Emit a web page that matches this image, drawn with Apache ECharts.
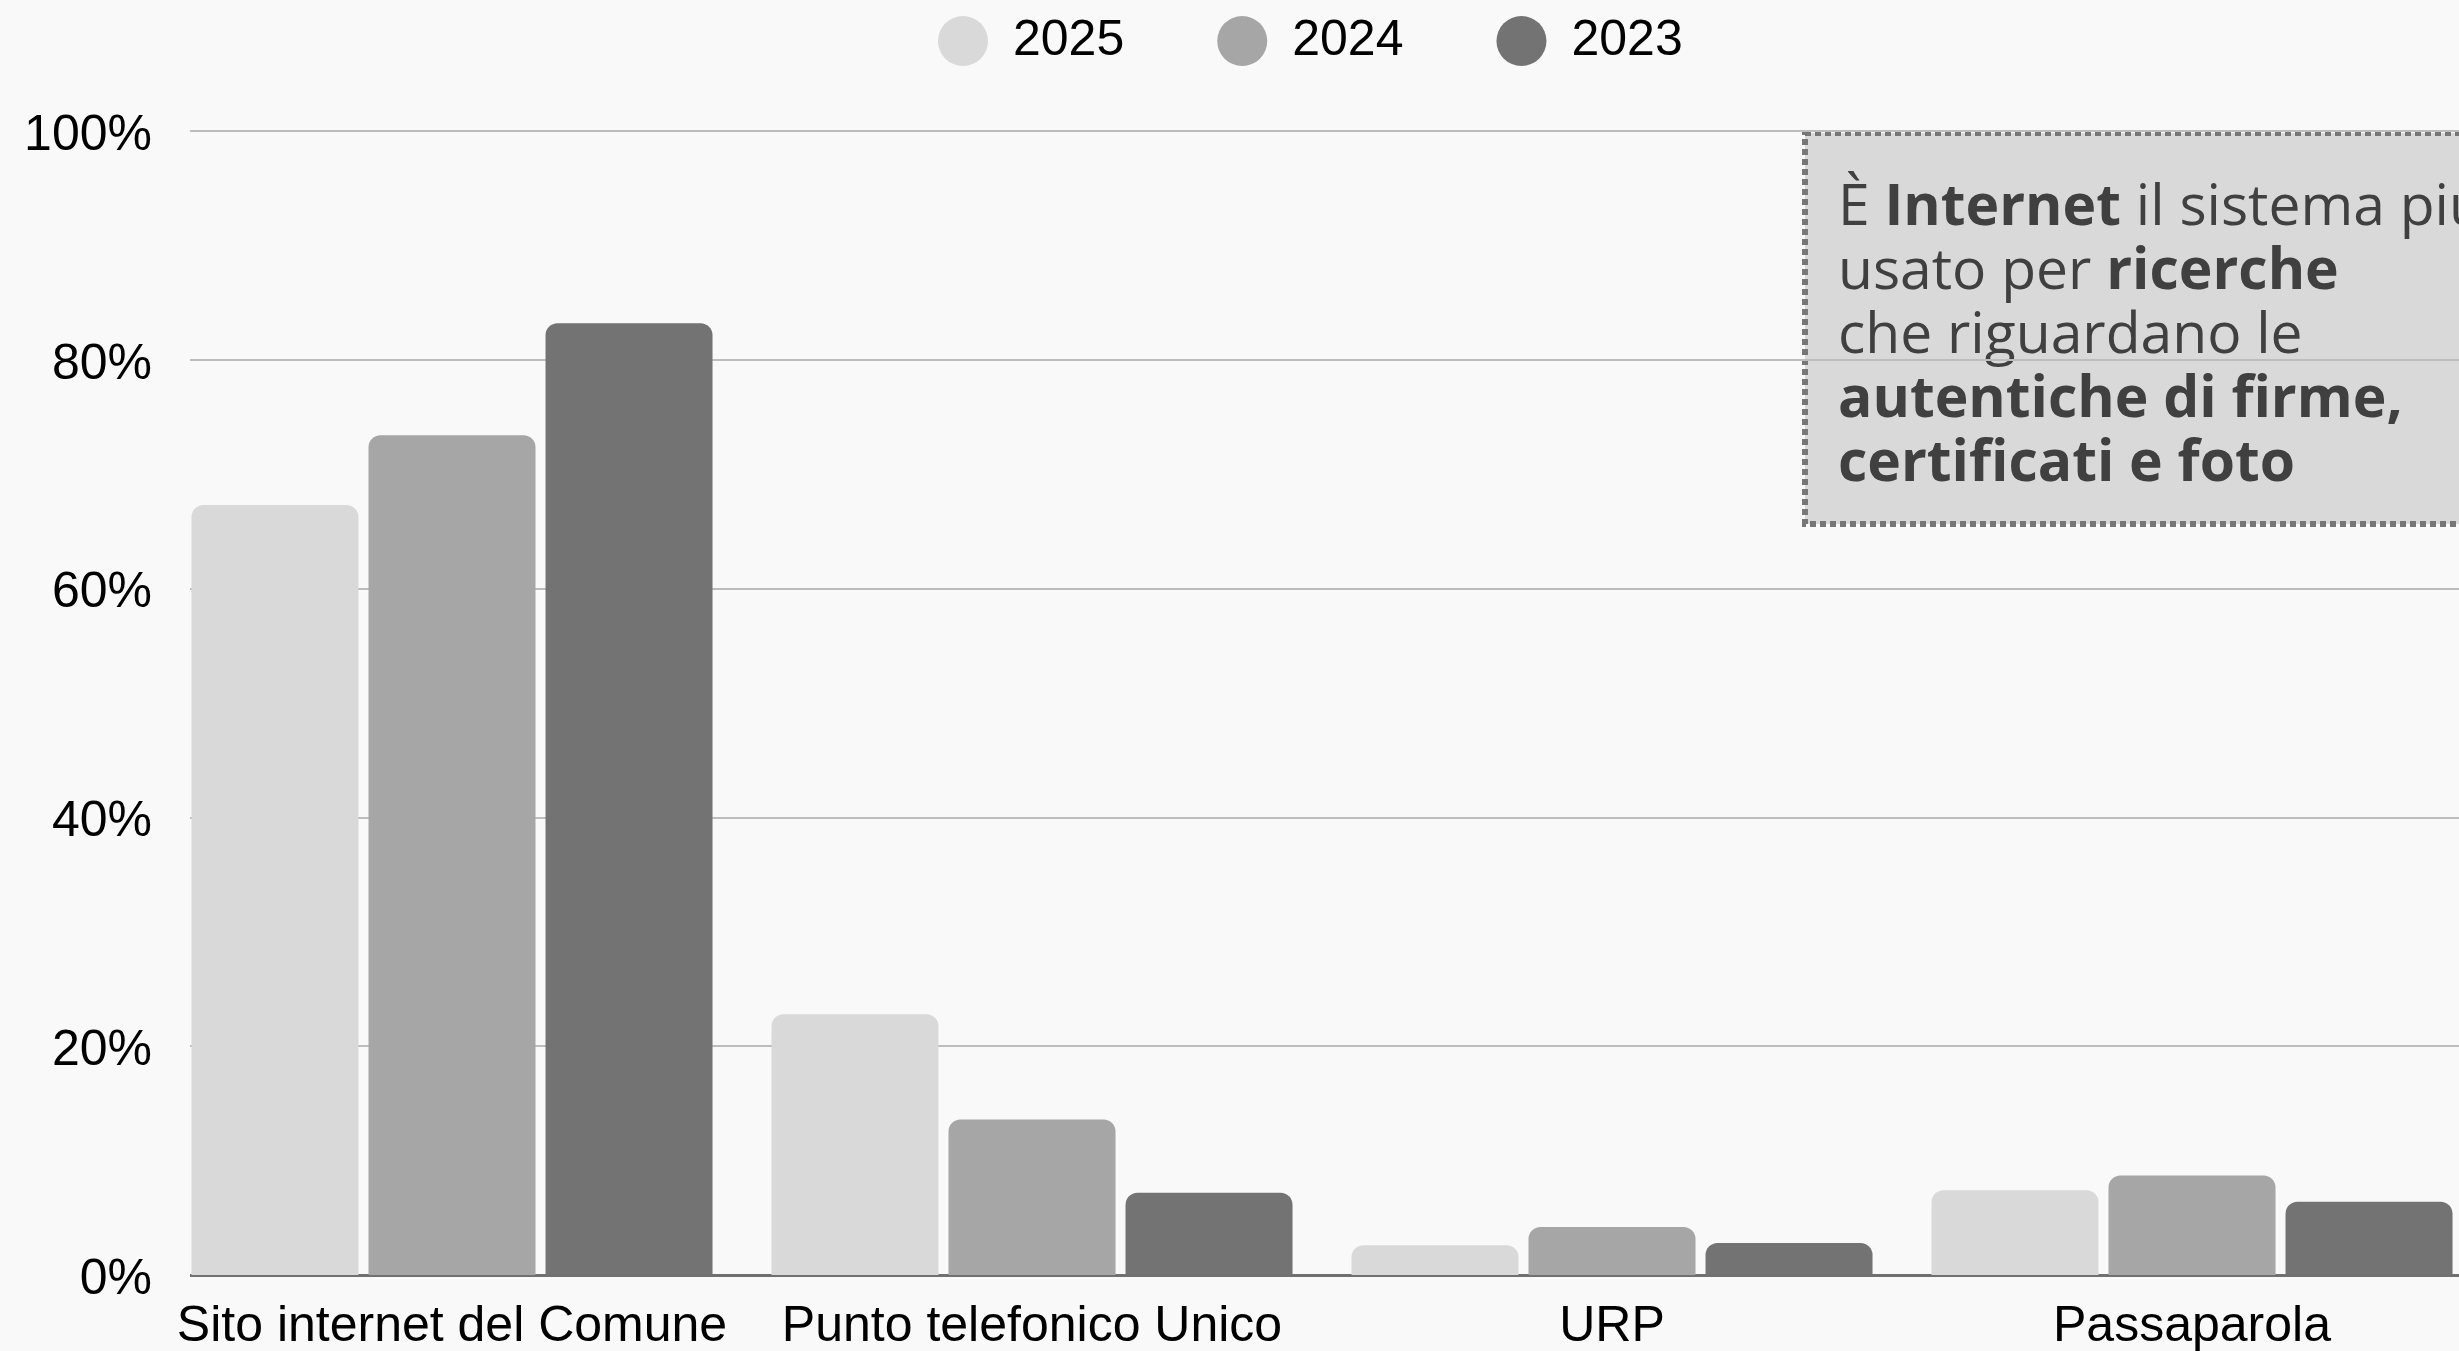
<!DOCTYPE html>
<html>
<head>
<meta charset="utf-8">
<script src="https://cdn.jsdelivr.net/npm/echarts@6/dist/echarts.min.js"></script>
<style>
  html, body { margin: 0; padding: 0; background: #f9f9f9; }
  #chart { width: 2459px; height: 1351px; }
</style>
</head>
<body>
<div id="chart"></div>
<script>
const categories = ['Sito internet del Comune', 'Punto telefonico Unico', 'URP', 'Passaparola'];
const seriesNames = ['2025', '2024', '2023'];
const values2025 = [67.3, 22.8, 2.6, 7.4];
const values2024 = [73.4, 13.6, 4.2, 8.7];
const values2023 = [83.2, 7.2, 2.8, 6.4];
const yMin = 0, yMax = 100, yStep = 20;
const colors = ['#d9d9d9', '#a6a6a6', '#737373'];
const noteText = '{n|È }{b|Internet}{n| il sistema più}\n{n|usato per }{b|ricerche}\n{n|che riguardano le}\n{b|autentiche di firme,}\n{b|certificati e foto}';

const chart = echarts.init(document.getElementById('chart'), null, { renderer: 'canvas' });
const seriesValues = [values2025, values2024, values2023];
const font = 'Liberation Sans, Arial, sans-serif';

chart.setOption({
  animation: false,
  backgroundColor: '#f9f9f9',
  color: colors,
  legend: {
    data: seriesNames,
    left: 933,
    top: 11,
    icon: 'circle',
    itemWidth: 50,
    itemHeight: 50,
    itemGap: 93,
    textStyle: { fontFamily: font, fontSize: 50, color: '#000', padding: [0, 0, 0, 20] }
  },
  grid: { left: 162, right: -23, top: 131, bottom: 76, containLabel: false, outerBoundsMode: 'none' },
  xAxis: {
    type: 'category',
    data: categories,
    axisTick: { show: false },
    axisLine: { lineStyle: { color: '#707070', width: 3 } },
    axisLabel: { fontFamily: font, fontSize: 50, color: '#000', margin: 27, interval: 0 }
  },
  yAxis: {
    type: 'value',
    min: yMin, max: yMax, interval: yStep,
    axisLine: { show: false },
    axisTick: { show: false },
    splitLine: { lineStyle: { color: '#bdbdbd', width: 2 } },
    axisLabel: { fontFamily: font, fontSize: 50, color: '#000', margin: 10, verticalAlign: 'top', lineHeight: 10, formatter: '{value}%' }
  },
  series: seriesNames.map((name, i) => ({
    name: name,
    type: 'bar',
    data: seriesValues[i],
    barWidth: 167,
    barGap: '6%',
    itemStyle: { color: colors[i], borderRadius: [12, 12, 0, 0] }
  })),
  graphic: [
    {
      type: 'rect', z: -1,
      shape: { x: 1805, y: 133, width: 900, height: 391 },
      style: { fill: '#d9d9d9', stroke: '#777777', lineWidth: 6, lineDash: [6, 4] }
    },
    {
      type: 'text', z: -1,
      x: 1838, y: 177,
      style: {
        text: noteText,
        fill: '#404040',
        textVerticalAlign: 'top',
        rich: {
          n: { fontFamily: 'Open Sans', fontSize: 57, fontWeight: 'normal', lineHeight: 64, fill: '#404040', color: '#404040' },
          b: { fontFamily: 'Open Sans', fontSize: 57, fontWeight: 'bold', lineHeight: 64, fill: '#404040', color: '#404040' }
        }
      }
    },
    {
      type: 'rect', z: 10, silent: true,
      shape: { x: 156, y: 115, width: 34, height: 1175 },
      style: { fill: '#f9f9f9' }
    }
  ]
});
</script>
</body>
</html>
